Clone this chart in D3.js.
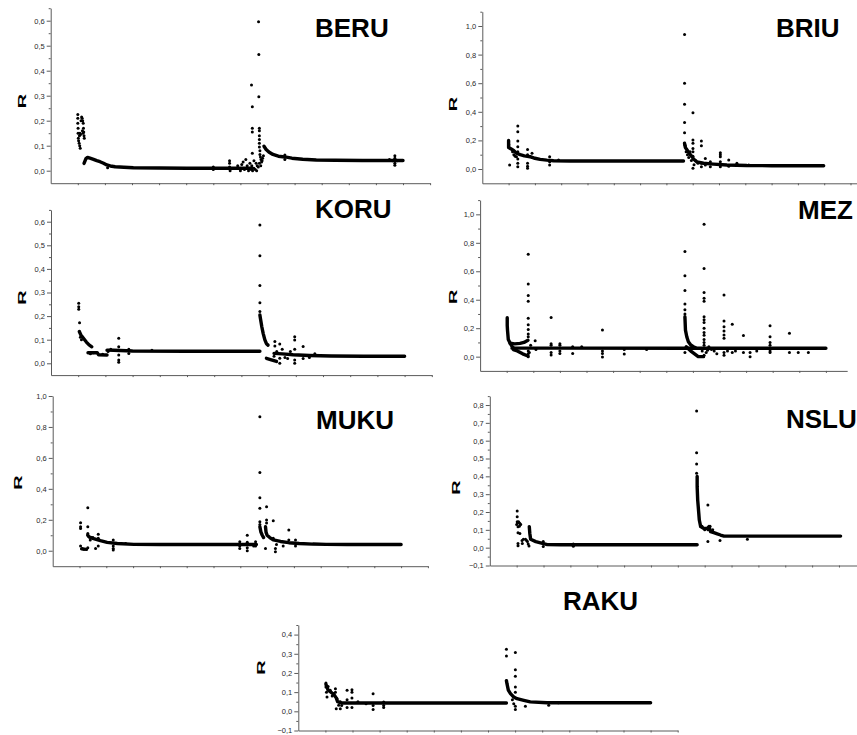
<!DOCTYPE html>
<html>
<head>
<meta charset="utf-8">
<script src="https://cdn.jsdelivr.net/npm/d3@7"></script>
<style>
  html, body { margin: 0; padding: 0; background: #fff; }
  svg { display: block; }
  .tick text { font-family: "Liberation Sans", Arial, sans-serif; }
</style>
</head>
<body>
<svg id="chart" width="857" height="735"></svg>
<script>
// ---------------- DATA ----------------
const panelNames = ["BERU", "BRIU", "KORU", "MEZ", "MUKU", "NSLU", "RAKU"];

// y tick labels (major) per panel
const beruTicks = [0, 0.1, 0.2, 0.3, 0.4, 0.5, 0.6];
const briuTicks = [0, 0.2, 0.4, 0.6, 0.8, 1.0];
const koruTicks = [0, 0.1, 0.2, 0.3, 0.4, 0.5, 0.6];
const mezTicks  = [0, 0.2, 0.4, 0.6, 0.8, 1.0];
const mukuTicks = [0, 0.2, 0.4, 0.6, 0.8, 1.0];
const nsluTicks = [-0.1, 0, 0.1, 0.2, 0.3, 0.4, 0.5, 0.6, 0.7, 0.8];
const rakuTicks = [-0.1, 0, 0.1, 0.2, 0.3, 0.4];

// y extents per panel
const beruY = [-0.05, 0.65];
const briuY = [-0.1, 1.1];
const koruY = [-0.05, 0.65];
const mezY  = [-0.1, 1.1];
const mukuY = [-0.1, 1.0];
const nsluY = [-0.1, 0.85];
const rakuY = [-0.1, 0.45];

// dense runs of points (drawn as thick bands), x in tick units, y = R
const beruTrend = [
  [[0.23,0.029],[0.3,0.048],[0.36,0.053],[0.45,0.05],[0.58,0.045],[0.7,0.04],[0.82,0.036],[0.95,0.03],[1.07,0.023],[1.2,0.019],[1.38,0.016],[1.7,0.014],[2.05,0.012],[3,0.011],[4.02,0.01],[5,0.01],[6.0,0.01],[6.45,0.01]],
  [[6.87,0.098],[6.95,0.085],[7.05,0.075],[7.2,0.065],[7.4,0.058],[7.64,0.055],[7.9,0.05],[8.3,0.046],[8.8,0.043],[9.5,0.042],[10.5,0.041],[11.5,0.041],[12.0,0.041]]
];
const beruDots = [
  [0.0,0.225],[0.0,0.21],[0.0,0.19],[0.01,0.17],[0.01,0.15],[0.02,0.13],[0.03,0.12],[0.05,0.11],[0.07,0.10],[0.09,0.09],[0.06,0.14],[0.08,0.15],[0.1,0.145],[0.12,0.2],[0.14,0.215],[0.16,0.21],[0.18,0.2],[0.2,0.19],[0.21,0.17],[0.22,0.155],[0.23,0.14],[0.24,0.13],[0.19,0.15],[0.17,0.16],
  [1.1,0.012],[5.0,0.015],[5.0,0.005],[5.6,0.015],[5.6,0.03],[5.6,0.04],[5.62,0.0],[5.9,0.02],[6.0,0.0],[6.05,0.025],[6.1,0.035],[6.15,0.005],[6.2,0.045],[6.25,0.02],[6.3,0.0],[6.35,0.03],[6.4,0.005],[6.42,0.02],[6.45,0.0],[6.5,0.01],[6.55,0.005],[6.6,0.0],[6.62,0.02],[6.58,0.03],[6.5,0.04],
  [6.41,0.343],[6.44,0.256],[6.44,0.17],[6.44,0.155],[6.44,0.07],[6.67,0.596],[6.68,0.465],[6.68,0.296],[6.7,0.17],[6.7,0.16],[6.7,0.14],[6.7,0.125],[6.7,0.11],[6.7,0.095],[6.72,0.08],[6.72,0.065],[6.74,0.055],[6.76,0.045],[6.78,0.035],[6.8,0.04],[6.82,0.05],[6.75,0.02],[6.7,0.03],[6.66,0.015],[6.85,0.06],
  [7.64,0.063],[7.64,0.045],[11.7,0.06],[11.7,0.05],[11.7,0.03],[11.7,0.022],[11.62,0.04],[11.78,0.04],[11.5,0.045]
];

const briuTrend = [
  [[0.0,0.2],[0.0,0.15],[0.1,0.14],[0.19,0.13],[0.3,0.11],[0.44,0.1],[0.6,0.092],[0.82,0.086],[1.0,0.075],[1.2,0.067],[1.45,0.062],[1.71,0.058],[2.34,0.056],[4,0.056],[6.65,0.056]],
  [[6.69,0.18],[6.72,0.15],[6.78,0.135],[6.85,0.115],[6.91,0.1],[7.0,0.08],[7.03,0.07],[7.16,0.05],[7.41,0.04],[7.79,0.034],[8.3,0.028],[9.06,0.024],[10,0.023],[11.98,0.023]]
];
const briuDots = [
  [0.0,0.19],[0.01,0.17],[0.03,0.15],[0.04,0.028],[0.15,0.12],[0.2,0.1],[0.25,0.09],[0.3,0.085],[0.35,0.3],[0.35,0.26],[0.35,0.195],[0.35,0.156],[0.35,0.12],[0.35,0.07],[0.35,0.04],[0.35,0.016],[0.72,0.137],[0.72,0.1],[0.72,0.04],[0.72,0.005],[0.72,0.02],[0.89,0.11],[0.89,0.08],[1.56,0.086],[1.56,0.05],[1.56,0.028],[1.9,0.063],
  [6.69,0.94],[6.69,0.6],[6.69,0.453],[6.69,0.326],[6.69,0.253],[6.7,0.17],[6.72,0.16],[6.75,0.12],[6.8,0.1],[6.85,0.08],[6.9,0.12],[6.95,0.06],[7.01,0.393],[7.01,0.202],[7.01,0.18],[7.01,0.144],[7.01,0.12],[7.01,0.09],[7.01,0.005],[7.05,0.03],[7.1,0.06],[7.2,0.04],[7.33,0.195],[7.33,0.163],[7.33,0.04],[7.33,0.016],[7.48,0.074],[7.48,0.028],[7.67,0.051],[7.67,0.015],[8.05,0.114],[8.05,0.1],[8.05,0.086],[8.05,0.05],[8.05,0.015],[8.37,0.063],[8.37,0.02],[8.68,0.04],[9.13,0.028]
];

const koruTrend = [
  [[0.04,0.135],[0.1,0.12],[0.2,0.105],[0.3,0.09],[0.4,0.078],[0.5,0.07]],
  [[0.36,0.045],[0.7,0.045],[0.75,0.036],[1.06,0.035]],
  [[1.06,0.056],[1.3,0.055],[2.0,0.052],[4,0.051],[6.68,0.051]],
  [[6.68,0.205],[6.7,0.19],[6.75,0.155],[6.8,0.127],[6.86,0.1],[6.92,0.083],[6.98,0.077]],
  [[6.92,0.021],[7.1,0.015],[7.29,0.008]],
  [[7.2,0.042],[7.5,0.04],[7.9,0.036],[8.5,0.033],[9.3,0.031],[10.5,0.03],[12,0.03]]
];
const koruDots = [
  [0.02,0.254],[0.02,0.24],[0.02,0.229],[0.05,0.172],[0.05,0.134],[0.08,0.11],[0.12,0.1],[0.45,0.04],[0.55,0.045],[0.9,0.038],[1.1,0.05],[1.2,0.06],[1.49,0.106],[1.49,0.07],[1.49,0.035],[1.49,0.014],[1.49,0.004],[1.49,0.055],[1.86,0.06],[1.86,0.042],[2.71,0.055],
  [6.68,0.586],[6.68,0.456],[6.68,0.33],[6.68,0.257],[6.68,0.22],[7.23,0.092],[7.23,0.073],[7.2,0.03],[7.3,0.05],[7.41,0.082],[7.41,0.021],[7.41,0.0],[7.5,0.06],[7.6,0.025],[7.7,0.02],[7.96,0.113],[7.96,0.099],[7.96,0.06],[7.96,0.014],[7.96,0.0],[7.8,0.05],[8.27,0.071],[8.27,0.02],[8.5,0.025],[8.7,0.04]
];

const mezTrend = [
  [[0.02,0.274],[0.02,0.22],[0.03,0.187],[0.06,0.12],[0.13,0.094],[0.19,0.075],[0.25,0.062]],
  [[0.13,0.094],[0.3,0.09],[0.5,0.093],[0.65,0.1],[0.8,0.115]],
  [[0.25,0.05],[0.4,0.04],[0.6,0.02],[0.8,0.005]],
  [[0.2,0.06],[2,0.06],[6.7,0.059],[12,0.059]],
  [[6.7,0.28],[6.72,0.187],[6.77,0.14],[6.83,0.105],[6.92,0.082],[7.02,0.07],[7.1,0.062]],
  [[6.75,0.07],[6.95,0.035],[7.2,0.0],[7.4,0.0]]
];
const mezDots = [
  [0.81,0.72],[0.81,0.51],[0.81,0.43],[0.81,0.39],[0.81,0.27],[0.81,0.225],[0.81,0.19],[0.81,0.16],[0.81,0.14],[0.81,0.0],[0.81,0.02],[0.81,0.04],[0.85,0.03],[0.9,0.08],
  [1.07,0.112],[1.1,0.05],[1.67,0.276],[1.67,0.09],[1.67,0.08],[1.67,0.012],[1.67,0.03],[2.0,0.09],[2.0,0.08],[2.0,0.023],[2.0,0.04],[2.48,0.023],[2.48,0.07],[2.82,0.07],[3.6,0.187],[3.6,0.023],[3.6,-0.002],[3.6,0.04],[4.42,0.019],[4.42,0.05],[5.26,0.05],
  [6.7,0.738],[6.7,0.569],[6.7,0.464],[6.7,0.37],[6.7,0.33],[6.7,0.3],[6.7,0.03],[7.42,0.93],[7.42,0.62],[7.42,0.45],[7.42,0.41],[7.42,0.39],[7.42,0.28],[7.42,0.26],[7.42,0.24],[7.42,0.2],[7.42,0.17],[7.42,0.15],[7.42,0.12],[7.42,0.1],[7.42,0.08],[7.42,0.01],[7.35,0.04],[7.5,0.03],[7.55,0.045],[7.6,0.07],[7.7,0.05],[7.8,0.04],[7.9,0.02],
  [8.17,0.433],[8.17,0.25],[8.17,0.21],[8.17,0.18],[8.17,0.152],[8.17,0.13],[8.17,0.03],[8.17,0.01],[8.3,0.04],[8.48,0.227],[8.48,0.03],[8.6,0.04],[8.9,0.148],[8.9,0.03],[9.15,0.0],[9.15,0.03],[9.4,0.04],[9.9,0.218],[9.9,0.14],[9.9,0.1],[9.9,0.08],[9.9,0.03],[9.9,0.04],[10.63,0.164],[10.63,0.03],[10.96,0.03],[11.34,0.03]
];

const mukuTrend = [
  [[0.31,0.1],[0.35,0.09],[0.53,0.078],[0.78,0.065],[1.03,0.054],[1.41,0.047],[2.03,0.041],[3,0.04],[5,0.04],[6.6,0.04]],
  [[6.94,0.155],[6.96,0.12],[7.0,0.1],[7.1,0.085],[7.23,0.07],[7.5,0.06],[7.81,0.052],[8.2,0.047],[8.7,0.043],[9.2,0.041],[10,0.04],[12,0.04]],
  [[0.08,0.012],[0.26,0.009]],
  [[6.73,0.155],[6.77,0.12],[6.82,0.1],[6.87,0.085]]
];
const mukuDots = [
  [0.04,0.181],[0.04,0.155],[0.04,0.144],[0.04,0.03],[0.1,0.015],[0.16,0.009],[0.31,0.278],[0.31,0.155],[0.31,0.112],[0.31,0.02],[0.4,0.07],[0.5,0.085],[0.6,0.015],[0.7,0.106],[0.7,0.03],[0.7,0.08],[1.26,0.07],[1.26,0.015],[1.26,0.005],[1.26,0.03],[1.72,0.047],
  [5.98,0.058],[5.98,0.015],[5.98,0.03],[6.26,0.1],[6.26,0.0],[6.26,0.02],[6.26,0.055],[6.57,0.058],[6.57,0.03],[6.5,0.03],
  [6.73,0.866],[6.73,0.506],[6.73,0.343],[6.73,0.274],[6.73,0.187],[6.73,0.17],[6.98,0.284],[6.98,0.198],[6.98,0.18],[6.94,0.015],[7.23,0.194],[7.23,0.08],[7.31,0.015],[7.31,-0.006],[7.35,0.04],[7.81,0.134],[7.81,0.07],[8.06,0.069],[8.06,0.03],[7.6,0.03]
];

const nsluTrend = [
  [[0.47,0.118],[0.49,0.08],[0.52,0.047],[0.71,0.034],[0.96,0.024],[1.14,0.017],[1.64,0.016],[3,0.016],[6.72,0.016]],
  [[6.72,0.4],[6.72,0.342],[6.74,0.267],[6.76,0.23],[6.78,0.193],[6.8,0.155],[6.85,0.118],[6.97,0.108],[7.1,0.108],[7.16,0.118],[7.22,0.09],[7.34,0.084],[7.47,0.077],[7.59,0.071],[7.72,0.065],[8,0.065],[12.06,0.065]]
];
const nsluDots = [
  [0.02,0.206],[0.02,0.174],[0.02,0.146],[0.05,0.118],[0.05,0.084],[0.05,0.024],[0.05,0.011],[0.0,0.13],[0.03,0.14],[0.07,0.146],[0.09,0.14],[0.12,0.136],[0.15,0.13],[0.1,0.12],[0.12,0.08],[0.2,0.04],[0.21,0.024],[0.25,0.047],[0.33,0.047],[0.37,0.04],[0.4,0.034],[0.43,0.02],[0.46,0.009],[0.99,0.006],[0.99,0.034],[2.11,0.02],[2.11,0.008],
  [6.7,0.766],[6.7,0.533],[6.7,0.469],[6.7,0.417],[6.9,0.12],[7.0,0.1],[7.12,0.239],[7.12,0.034],[7.12,0.1],[7.2,0.12],[7.57,0.04],[8.59,0.047],[7.3,0.1]
];

const rakuTrend = [
  [[0.02,0.14],[0.1,0.11],[0.2,0.1],[0.3,0.09],[0.4,0.07],[0.45,0.05],[0.6,0.043],[1,0.043],[2,0.043],[4,0.043],[6.68,0.043]],
  [[6.68,0.16],[6.7,0.144],[6.75,0.11],[6.83,0.092],[6.95,0.075],[7.07,0.066],[7.32,0.057],[7.56,0.049],[8.18,0.045],[9,0.045],[12,0.045]]
];
const rakuDots = [
  [0.02,0.148],[0.02,0.127],[0.06,0.075],[0.04,0.1],[0.1,0.13],[0.18,0.11],[0.25,0.08],[0.31,0.092],[0.37,0.118],[0.37,0.1],[0.43,0.066],[0.49,0.031],[0.4,0.014],[0.55,0.014],[0.55,0.05],[0.6,0.03],[0.8,0.11],[0.8,0.06],[0.8,0.02],[0.98,0.113],[0.98,0.1],[0.98,0.07],[0.98,0.02],[1.2,0.05],[1.5,0.04],[1.76,0.092],[1.76,0.009],[1.76,0.03],[2.15,0.049],[2.15,0.02],[2.15,0.03],
  [6.68,0.324],[6.68,0.289],[7.01,0.306],[7.01,0.217],[7.01,0.183],[7.01,0.127],[7.01,0.1],[7.01,0.009],[7.01,0.026],[6.95,0.04],[6.9,0.06],[7.38,0.026],[8.24,0.031],[8.6,0.045]
];

// ---------------- LAYOUT ----------------
const panels = [
  { name: panelNames[0], trend: beruTrend, dots: beruDots, ticks: beruTicks, yExt: beruY, minorStep: 0.05,
    left: 50.7, unit: 27.1, xEnd: 13, yBottom: 183.2, yTop: 8.2, title: [315, 37], rLab: [22, 101] },
  { name: panelNames[1], trend: briuTrend, dots: briuDots, ticks: briuTicks, yExt: briuY, minorStep: 0.1,
    left: 482.3, unit: 26.3, xEnd: 13.8, yBottom: 183.3, yTop: 11.7, title: [776, 36.7], rLab: [453, 104] },
  { name: panelNames[2], trend: koruTrend, dots: koruDots, ticks: koruTicks, yExt: koruY, minorStep: 0.05,
    left: 51, unit: 27.2, xEnd: 13, yBottom: 375.1, yTop: 209.9, title: [315, 218.3], rLab: [22, 297.5] },
  { name: panelNames[3], trend: mezTrend, dots: mezDots, ticks: mezTicks, yExt: mezY, minorStep: 0.1,
    left: 480.1, unit: 26.6, xEnd: 12.8, yBottom: 370.9, yTop: 200.1, title: [798, 219.3], rLab: [452.5, 296.7] },
  { name: panelNames[4], trend: mukuTrend, dots: mukuDots, ticks: mukuTicks, yExt: mukuY, minorStep: 0.1,
    left: 52.7, unit: 26.8, xEnd: 13, yBottom: 566.2, yTop: 396, title: [316, 429.3], rLab: [17.5, 482.5] },
  { name: panelNames[5], trend: nsluTrend, dots: nsluDots, ticks: nsluTicks, yExt: nsluY, minorStep: 0.05,
    left: 489.8, unit: 26.86, xEnd: 13, yBottom: 565.5, yTop: 396.1, title: [786, 428.3], rLab: [456, 487.5] },
  { name: panelNames[6], trend: rakuTrend, dots: rakuDots, ticks: rakuTicks, yExt: rakuY, minorStep: 0.05,
    left: 298.3, unit: 27.1, xEnd: 13, yBottom: 730.5, yTop: 625.0, title: [563, 610], rLab: [261, 667.5] }
];

const svg = d3.select("#chart");
const fmt = d => d3.format(".1f")(d).replace(".", ",").replace("-0,0", "0,0");
const axisColor = "#5a5a5a";
const font = "'Liberation Sans', Arial, sans-serif";

panels.forEach(p => {
  const g = svg.append("g");
  const x = d3.scaleLinear().domain([-1, p.xEnd]).range([p.left, p.left + (p.xEnd + 1) * p.unit]);
  const y = d3.scaleLinear().domain(p.yExt).range([p.yBottom, p.yTop]);

  // minor y ticks
  const minor = d3.range(Math.round(p.yExt[0] / p.minorStep), Math.round(p.yExt[1] / p.minorStep) + 1)
    .map(i => +(i * p.minorStep).toFixed(3))
    .filter(v => !p.ticks.some(t => Math.abs(t - v) < 1e-6) && v > p.yExt[0] + 1e-6);
  const gMinor = g.append("g").attr("transform", `translate(${p.left},0)`)
    .call(d3.axisLeft(y).tickValues(minor).tickSize(2).tickFormat("").tickSizeOuter(0));
  gMinor.select(".domain").remove();
  gMinor.selectAll("line").attr("stroke", axisColor);

  // major y axis
  const gy = g.append("g").attr("transform", `translate(${p.left},0)`)
    .call(d3.axisLeft(y).tickValues(p.ticks).tickSize(4).tickPadding(2).tickFormat(fmt).tickSizeOuter(0));
  gy.select(".domain").attr("stroke", axisColor);
  gy.selectAll("line").attr("stroke", axisColor);
  gy.selectAll("text").attr("fill", "#2a2a2a").attr("font-size", 7.5).attr("font-family", font);

  // x axis
  const xt = d3.range(0, Math.floor(p.xEnd) + 1);
  const gx = g.append("g").attr("transform", `translate(0,${p.yBottom})`)
    .call(d3.axisBottom(x).tickValues(xt).tickSize(2).tickFormat("").tickSizeOuter(0));
  gx.select(".domain").attr("stroke", axisColor);
  gx.selectAll("line").attr("stroke", axisColor);

  // dense runs
  const line = d3.line().x(d => x(d[0])).y(d => y(d[1]));
  g.append("g").selectAll("path").data(p.trend).join("path")
    .attr("d", line).attr("fill", "none").attr("stroke", "#000")
    .attr("stroke-width", 3.4).attr("stroke-linecap", "round").attr("stroke-linejoin", "round");

  // scattered points
  g.append("g").selectAll("circle").data(p.dots).join("circle")
    .attr("cx", d => x(d[0])).attr("cy", d => y(d[1])).attr("r", 1.5).attr("fill", "#000");

  // title
  g.append("text").attr("x", p.title[0]).attr("y", p.title[1])
    .attr("font-family", font).attr("font-weight", "bold").attr("font-size", 26)
    .attr("fill", "#000").text(p.name);

  // R label
  g.append("text")
    .attr("transform", `translate(${p.rLab[0]},${p.rLab[1]}) rotate(-90) scale(1,0.58)`)
    .attr("text-anchor", "middle").attr("dy", "0.36em")
    .attr("font-family", font).attr("font-weight", "bold").attr("font-size", 20)
    .attr("fill", "#000").text("R");
});
</script>
</body>
</html>
